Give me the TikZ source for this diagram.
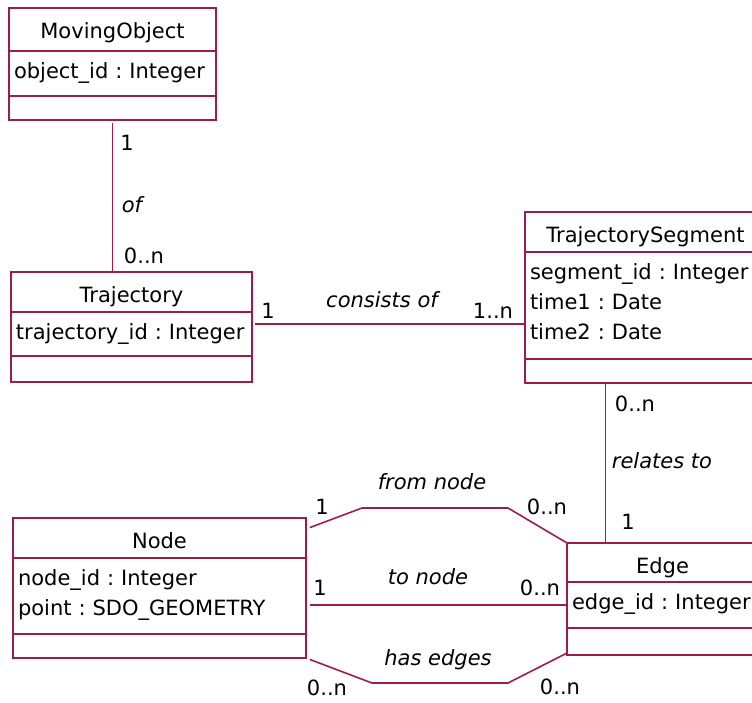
\documentclass[tikz,border=0pt]{standalone}
\usepackage{fontspec}
\setmainfont{DejaVu Sans}
\usepackage{tikz}
\usetikzlibrary{positioning}
\definecolor{umlrot}{RGB}{158,28,72}
\frenchspacing
\hyphenpenalty=10000

\begin{document}
\begin{tikzpicture}[
    x=1pt, y=-1pt,
    font=\fontsize{21}{30}\selectfont,
    box/.style={draw=umlrot, line width=1.6pt, inner sep=0pt, outer sep=0pt},
    titel/.style={box, text height=30pt},
    attr/.style={box, align=left, inner xsep=5pt, text height=27pt},
    lbl/.style={inner sep=0pt, text height=15pt, text depth=0pt},
    rolle/.style={lbl, font=\fontsize{21}{30}\selectfont\itshape},
    assoc/.style={draw=umlrot, line width=1.6pt}
]

\useasboundingbox (0,0) rectangle (752,702);
\clip (0,0) rectangle (752,702);

% --- KLASSE MovingObject ---
\node[titel, minimum width=207pt, text depth=13pt, anchor=north west] (moT) at (9,8) {MovingObject};
\node[attr, text width=197pt, text depth=18pt, below=0pt of moT] (moA) {object\_id : Integer};
\node[box, minimum width=207pt, minimum height=24pt, below=0pt of moA] (moO) {};

% --- KLASSE Trajectory ---
\node[titel, minimum width=241pt, text depth=10pt, anchor=north west] (trT) at (11,272) {Trajectory};
\node[attr, text width=231pt, text depth=17pt, below=0pt of trT] (trA) {trajectory\_id : Integer};
\node[box, minimum width=241pt, minimum height=26pt, below=0pt of trA] (trO) {};

% --- KLASSE TrajectorySegment (rechts abgeschnitten) ---
\node[titel, minimum width=241pt, text depth=10pt, anchor=north west] (tsT) at (525,212) {TrajectorySegment};
\node[attr, text width=231pt, text depth=80pt, below=0pt of tsT] (tsA) {segment\_id : Integer\\time1 : Date\\time2 : Date};
\node[box, minimum width=241pt, minimum height=24pt, below=0pt of tsA] (tsO) {};

% --- KLASSE Node ---
\node[titel, minimum width=293pt, text depth=10pt, anchor=north west] (ndT) at (13,518) {Node};
\node[attr, text width=283pt, text depth=49pt, below=0pt of ndT] (ndA) {node\_id : Integer\\point : SDO\_GEOMETRY};
\node[box, minimum width=293pt, minimum height=24pt, below=0pt of ndA] (ndO) {};

% --- KLASSE Edge (rechts abgeschnitten) ---
\node[titel, minimum width=191pt, text depth=9pt, anchor=north west] (edT) at (567,543) {Edge};
\node[attr, text width=181pt, text depth=19pt, below=0pt of edT] (edA) {edge\_id : Integer};
\node[box, minimum width=191pt, minimum height=27pt, below=0pt of edA] (edO) {};

% --- ASSOZIATIONEN ---
% of
\draw[assoc, shorten <=3pt] (moO.south) -- (moO.south |- trT.north);

% consists of
\coordinate (consL) at ([yshift=-12pt]trA.north east);
\draw[assoc, shorten <=3pt] (consL) -- (consL -| tsA.west);

% relates to
\coordinate (relO) at ([xshift=-40pt]tsO.south);
\draw[assoc] (relO) -- (relO |- edT.north);

% from node
\coordinate (vonA) at ([yshift=-11pt]ndT.north east);
\draw[assoc, shorten <=4pt] (vonA) -- ++(56,-21) -- ++(146,0) -- (edT.north west);

% to node
\coordinate (zuA) at (edA.west -| ndA.east);
\draw[assoc, shorten <=4pt] (zuA) -- (edA.west);

% has edges
\draw[assoc, shorten <=4pt] (ndO.south east) -- ++(66,25) -- ++(136,0) -- ([yshift=2pt]edO.south west);

% --- MULTIPLIZITAETEN ---
\foreach \n/\x/\y/\t in {mEins1/127/143/1, mN1/144/256/0..n,
    mEins2/268/311/1, mN2/493/311/1..n,
    mN3/635/404/0..n, mEins3/628/522/1,
    mEins4/322/507/1, mN4/547/507/0..n,
    mEins5/320/588/1, mN5/540/588/0..n,
    mN6/327/688/0..n, mN7/560/687/0..n}
    \node[lbl] (\n) at (\x,\y) {\t};

% --- ROLLENNAMEN ---
\foreach \n/\x/\y/\t in {rOf/132/205/of, rCons/382/300/consists of,
    rRel/662/461/relates to, rFrom/432/482/from node,
    rTo/428/577/to node, rHas/438/658/has edges}
    \node[rolle] (\n) at (\x,\y) {\t};

\end{tikzpicture}
\end{document}
